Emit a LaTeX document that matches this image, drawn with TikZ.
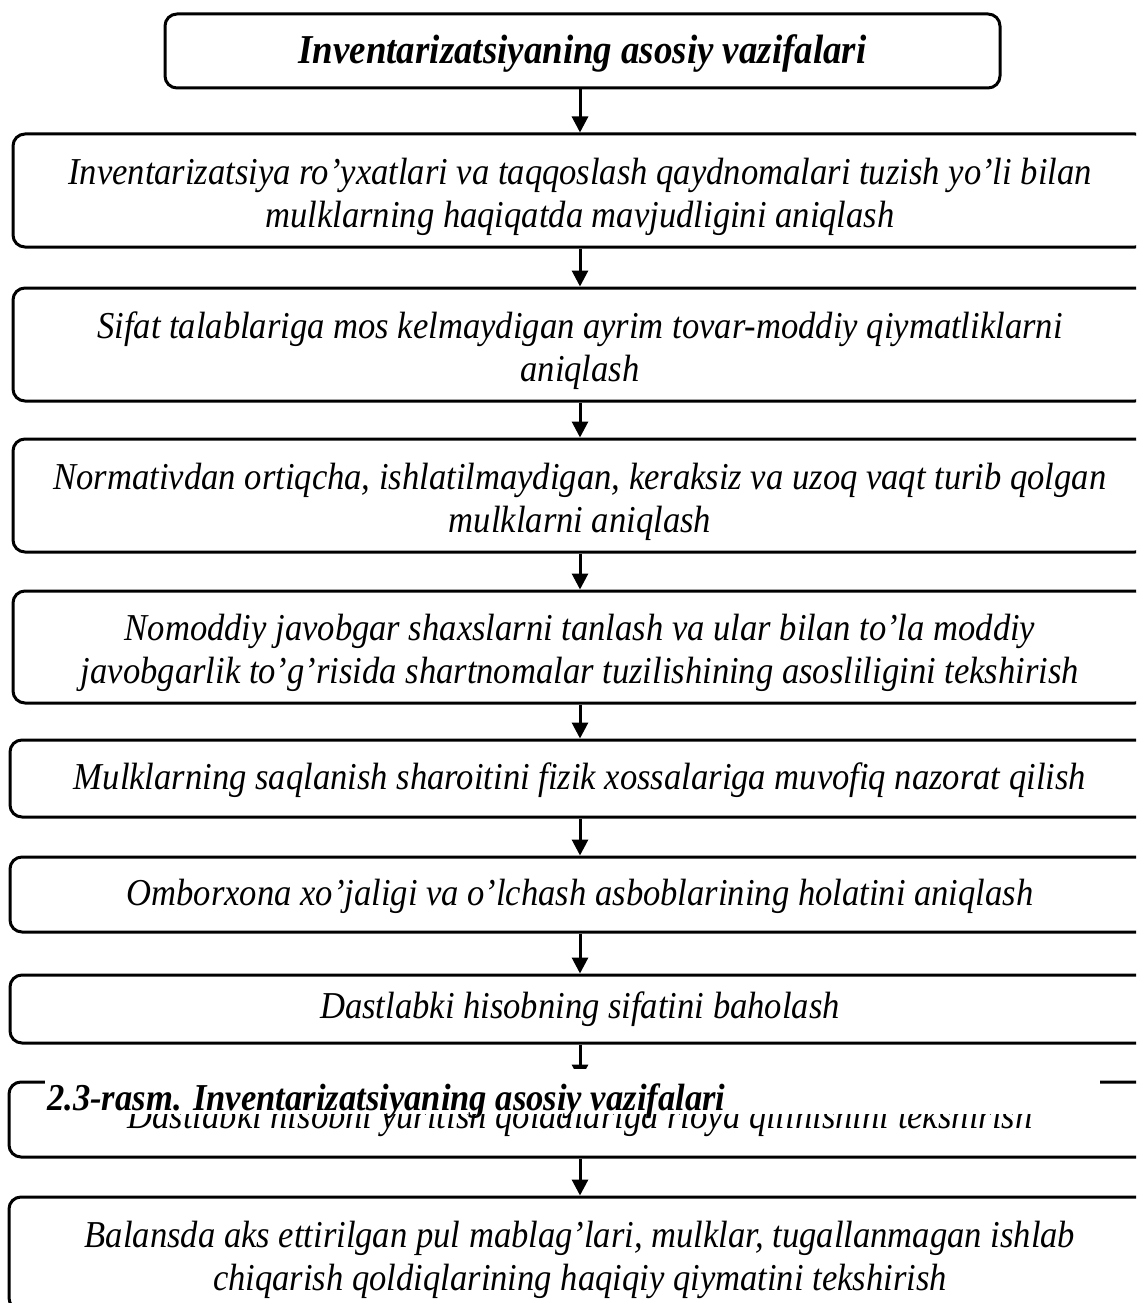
\documentclass[tikz,border=0pt]{standalone}
\usepackage{fontspec}
\setmainfont{Liberation Serif}
\newfontfamily\narrowserif[FakeStretch=0.91]{Liberation Serif}
\newfontfamily\narrowhead[FakeStretch=0.90]{Liberation Serif}
\usetikzlibrary{arrows.meta}

\begin{document}
\begin{tikzpicture}[x=1pt,y=-1pt,
  box/.style={draw, line width=3pt, rounded corners=12pt, align=center,
    inner sep=0pt, font=\narrowserif\itshape\fontsize{38}{43}\selectfont},
  onebox/.style={box, text height=31pt},
  twobox/.style={box, text height=82pt},
  headbox/.style={box, text height=34pt,
    font=\narrowhead\bfseries\itshape\fontsize{41}{43}\selectfont},
  link/.style={line width=3pt, -{Triangle[width=16pt,length=16pt]}},
  caption/.style={anchor=base west, inner sep=0pt,
    font=\narrowserif\bfseries\itshape\fontsize{38}{40}\selectfont}]

\useasboundingbox (0,0) rectangle (1136,1303);
\clip (0,0) rectangle (1136,1303);

\node[headbox, minimum width=835pt, minimum height=74pt] (title) at (582.5,51)
  {Inventarizatsiyaning asosiy vazifalari};

\node[twobox, minimum width=1134pt, minimum height=113pt] (b1) at (580,190.5)
  {Inventarizatsiya ro’yxatlari va taqqoslash qaydnomalari tuzish yo’li bilan\\
   mulklarning haqiqatda mavjudligini aniqlash};
\node[twobox, minimum width=1134pt, minimum height=113pt] (b2) at (580,344.5)
  {Sifat talablariga mos kelmaydigan ayrim tovar-moddiy qiymatliklarni\\
   aniqlash};
\node[twobox, minimum width=1134pt, minimum height=113pt] (b3) at (580,495.5)
  {Normativdan ortiqcha, ishlatilmaydigan, keraksiz va uzoq vaqt turib qolgan\\
   mulklarni aniqlash};
\node[twobox, minimum width=1134pt, minimum height=112pt] (b4) at (580,647)
  {Nomoddiy javobgar shaxslarni tanlash va ular bilan to’la moddiy\\
   javobgarlik to’g’risida shartnomalar tuzilishining asosliligini tekshirish};
\node[onebox, minimum width=1140pt, minimum height=77pt] (b5) at (580,778.5)
  {Mulklarning saqlanish sharoitini fizik xossalariga muvofiq nazorat qilish};
\node[onebox, minimum width=1140pt, minimum height=75pt] (b6) at (580,894.5)
  {Omborxona xo’jaligi va o’lchash asboblarining holatini aniqlash};
\node[box, minimum width=1140pt, minimum height=68pt] (b7) at (580,1009)
  {Dastlabki hisobning sifatini baholash};
\node[box, minimum width=1142pt, minimum height=75pt] (b8) at (580,1119.5)
  {Dastlabki hisobni yuritish qoidalariga rioya qilinishini tekshirish};
\node[twobox, minimum width=1142pt, minimum height=113pt] (b9) at (580,1253.5)
  {Balansda aks ettirilgan pul mablag’lari, mulklar, tugallanmagan ishlab\\
   chiqarish qoldiqlarining haqiqiy qiymatini tekshirish};

\draw[link] (title.south -| b1.north) -- (b1.north);
\foreach \a/\b in {b1/b2, b2/b3, b3/b4, b4/b5, b5/b6, b6/b7, b7/b8, b8/b9}
  \draw[link] (\a.south) -- (\b.north);

% figure caption laid over the ninth box
\fill[white] (45,1069) rectangle (1100,1114);
\node[caption] (cap) at (47,1110) {2.3-rasm. Inventarizatsiyaning asosiy vazifalari};
\end{tikzpicture}
\end{document}
